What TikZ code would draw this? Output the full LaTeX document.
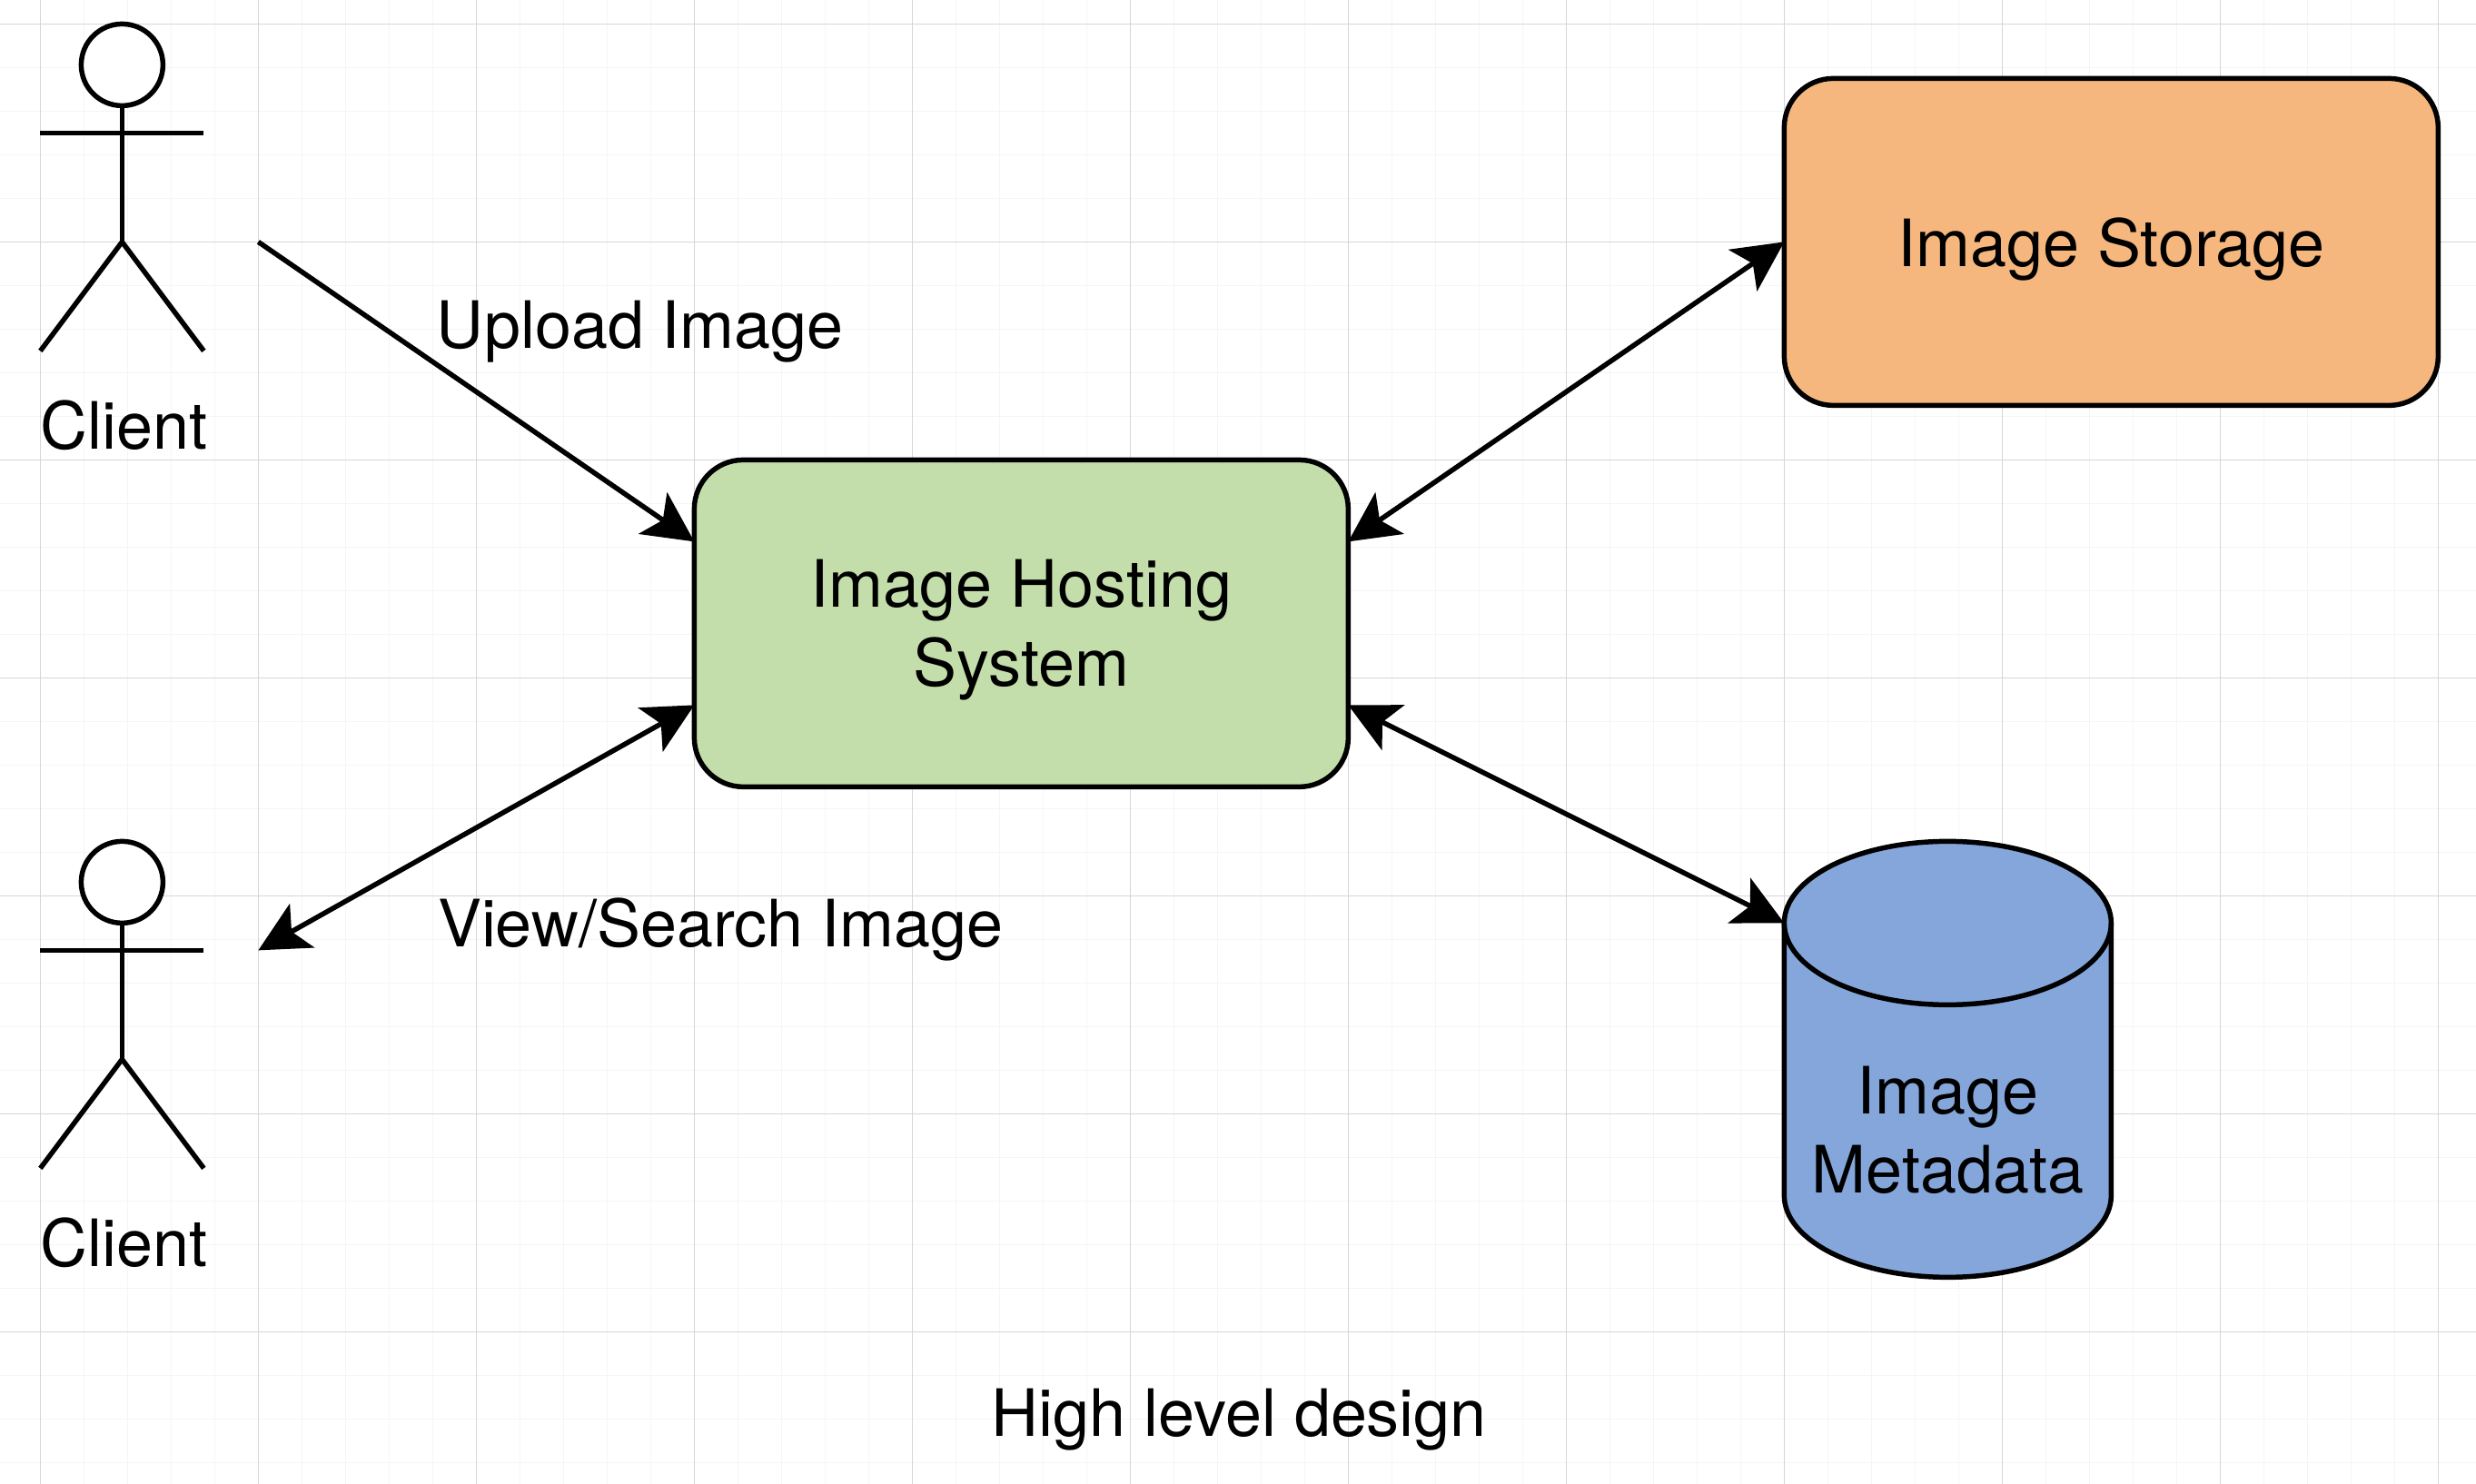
\documentclass[tikz,border=0pt]{standalone}
\usepackage{fontspec}
\setmainfont{TeX Gyre Heros}
\usetikzlibrary{arrows.meta,positioning}
\pgfdeclarelayer{gridlayer}
\pgfdeclarelayer{edgelayer}
\pgfdeclarelayer{nodelayer}
\pgfsetlayers{gridlayer,edgelayer,nodelayer,main}
\definecolor{lgreen}{HTML}{C3DEAA}
\definecolor{lorange}{HTML}{F5B77D}
\definecolor{lsteel}{HTML}{84A6DA}
\definecolor{minorline}{HTML}{F5F5F5}
\definecolor{majorline}{HTML}{D6D6D6}
\tikzset{>={Stealth[length=.46cm,width=.46cm,inset=.11cm]}}
\tikzstyle{caption}=[font=\fontsize{17.05}{20.5}\selectfont,align=center,inner sep=0pt]
\tikzstyle{outline}=[draw=black,line width=1.3pt]
\tikzstyle{block}=[rectangle,rounded corners=.45cm,outline,outer sep=0pt,minimum width=6cm,minimum height=3cm,caption]
\tikzstyle{inarrow}=[->,line width=1.3pt]
\tikzstyle{botharrow}=[<->,line width=1.3pt]
\tikzstyle{gridline}=[line width=.3pt]
\tikzset{actor/.pic={
	\node [circle,outline,fill=white,outer sep=0pt,minimum size=.75cm,inner sep=0pt] (-head) at (.75,-.375) {};
	\coordinate (-hip) at (.75,-2);
	\draw [style=outline] (-head) -- (-hip);
	\draw [style=outline] (0,-1) -- (1.5,-1);
	\draw [style=outline] (0,-3) -- (-hip) -- (1.5,-3);
}}

\begin{document}
\begin{tikzpicture}
	\useasboundingbox (-.37,.22) rectangle (22.347,-13.397);
	\begin{pgfonlayer}{gridlayer}
		\fill [white] (-.37,.22) rectangle (22.347,-13.397);
		\draw [style=gridline,minorline,step=.4cm] (-.37,.22) grid (22.347,-13.397);
		\draw [style=gridline,majorline,step=2cm] (-.37,.22) grid (22.347,-13.397);
	\end{pgfonlayer}
	\begin{pgfonlayer}{nodelayer}
		\pic (clientA) at (0,0) {actor};
		\pic (clientB) at (0,-7.5) {actor};
		\node [style=caption] (clientAlabel) at (.77,-3.68) {Client};
		\node [style=caption] (clientBlabel) at (.77,-11.18) {Client};
		\node [style=block,fill=lgreen] (hosting) at (9,-5.5) {};
		\node [style=caption] (hostinglabel) at (9,-5.56) {Image Hosting\\System};
		\node [style=block,fill=lorange] (storage) at (19,-2) {};
		\node [style=caption] (storagelabel) at (19,-2.07) {Image Storage};
		\node [outer sep=0pt,inner sep=0pt,minimum width=3cm,minimum height=4cm] (metadata) at (17.5,-9.5) {};
		\draw [style=outline,fill=lsteel] ([yshift=-.75cm]metadata.north west) arc [start angle=180,end angle=0,x radius=1.5cm,y radius=.75cm] -- ([yshift=.75cm]metadata.south east) arc [start angle=0,end angle=-180,x radius=1.5cm,y radius=.75cm] -- cycle;
		\draw [style=outline] ([yshift=-.75cm]metadata.north west) arc [start angle=180,end angle=360,x radius=1.5cm,y radius=.75cm];
		\node [style=caption] (metalabel) at (17.5,-10.15) {Image\\Metadata};
		\node [style=caption,anchor=west] (upload) at (3.63,-2.82) {Upload Image};
		\node [style=caption,anchor=west] (search) at (3.64,-8.31) {View/Search Image};
		\node [style=caption] (title) at (11,-12.81) {High level design};
		\coordinate (uploadstart) at (2,-2);
		\coordinate (searchend) at (2,-8.5);
	\end{pgfonlayer}
	\begin{pgfonlayer}{edgelayer}
		\draw [style=inarrow] (uploadstart) to ([yshift=.75cm]hosting.west);
		\draw [style=botharrow] (searchend) to ([yshift=-.75cm]hosting.west);
		\draw [style=botharrow] ([yshift=.75cm]hosting.east) to (storage.west);
		\draw [style=botharrow] ([yshift=-.75cm]hosting.east) to ([yshift=1.25cm]metadata.west);
	\end{pgfonlayer}
\end{tikzpicture}
\end{document}
